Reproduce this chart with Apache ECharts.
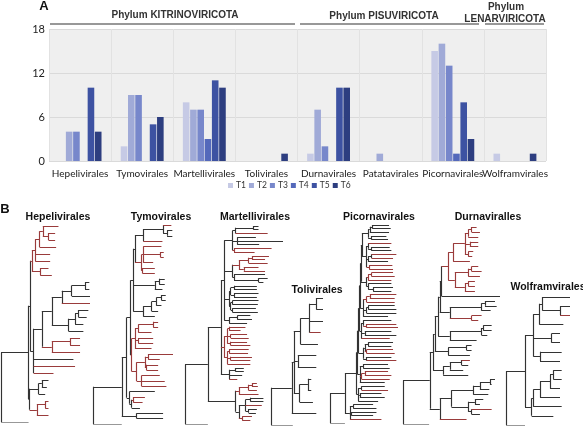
<!DOCTYPE html>
<html><head><meta charset="utf-8">
<script src="https://cdn.jsdelivr.net/npm/echarts@6/dist/echarts.min.js"></script>
<style>html,body{margin:0;padding:0;background:#fff}#c{width:583px;height:426px}</style>
</head><body><div id="c"></div>
<script>
// ---------- Panel A data ----------
const categories = ['Hepelivirales','Tymovirales','Martellivirales','Tolivirales','Durnavirales','Patatavirales','Picornavirales','Wolframvirales'];
const seriesNames = ['T1','T2','T3','T4','T5','T6'];
const t1 = [0, 2, 8, 0, 1, 0, 15, 1];
const t2 = [4, 9, 7, 0, 7, 1, 16, 0];
const t3 = [4, 9, 7, 0, 2, 0, 13, 0];
const t4 = [0, 0, 3, 0, 0, 0, 1, 0];
const t5 = [10, 5, 11, 0, 10, 0, 8, 0];
const t6 = [4, 6, 10, 1, 10, 0, 3, 1];
const yTicks = [0, 6, 12, 18];
const phyla = ['Phylum KITRINOVIRICOTA', 'Phylum PISUVIRICOTA', 'Phylum', 'LENARVIRICOTA'];

// ---------- Panel B data: trees (Newick, branch lengths; "r" = red clade/leaf) ----------
const hepR1 = "((((a:47,(a:20,a:20):17):10,a:50):13,a:45,a:45):10,(a:25,a:35):25)r";
const hepS = "(((a:13,a:13):40,a:55):30,r:85)";
const hepT = "(((a:30,a:25):10,a:25):20,a:45)";
const hepQ = "((a:30,a:30):55,a:85)r";
const hepD = "((a:20,a:15):10,a:20)";
const hepE = "((a:10,a:10):25,a:35)r";
const hepP = "(" + hepS + ":30," + hepT + ":50)";
const hepN = "(" + hepP + ":30," + hepQ + ":30)";
const hepF = "(" + hepN + ":25,a:120,r:125,r:60)";
const hepB = "(" + hepR1 + ":5," + hepF + ":10)";
const hepC = "(" + hepD + ":27," + hepE + ":22)";
const hepeliviralesTree = "((" + hepB + ":5," + hepC + ":3):83,a:83)";

const tymU1a = "((r:25,(a:16,a:16):12):60,r:58)";
const tymU1b = "((a:55,(a:10,a:10):52,a:30):5,(a:37,a:37):3)r";
const tymU2 = "((a:17,a:17):13,a:23)";
const tymU3 = "((((a:13,a:13):15,a:15):15,a:20):25,a:35)";
const tymL1 = "(((a:15,a:15):45,a:40):10,(a:45,a:45):10,a:50)";
const tymL2 = "(((a:75,a:35):10,(a:35,a:35):5):25,(a:55,a:70,a:75):15)";
const tymBl = "(a:77,((a:35,a:28)r:5,a:25):7)";
const tymU1 = "(" + tymU1a + ":25," + tymU1b + ":20)";
const tymU = "(" + tymU1 + ":5," + tymU2 + ":65," + tymU3 + ":30)";
const tymLr = "(" + tymL1 + ":10," + tymL2 + ":15)r";
const tymBm = "(" + tymU + ":8," + tymLr + ":3)";
const tymB = "(" + tymBm + ":12," + tymBl + ":8)";
const tymoviralesTree = "((" + tymB + ":15,(a:80,a:80):45):87,a:87)";

const marD1 = "(((a:15,a:15):55,r:98):10,(a:57,a:140,a:67):15,(a:115,a:63)r:5)";
const marD2 = "((((a:52,a:40):10,a:58):30,(a:45,a:65):15)r:20,(a:95,(a:28,a:15):75):5)";
const marD3 = "(((a:70,a:70):10,(a:75,a:70):10):5,((a:80,a:78):5,(a:72,a:78):5):5)";
const marD4 = "((a:40,a:45):25,a:55)";
const marB2 = "(((a:50,a:35):5,(a:50,a:55):10,(a:50,a:60):10):10,((a:60,a:58):5,(a:65,a:60):10,a:70):10)r";
const marB3 = "((a:25,a:25):20,a:40,r:25)";
const marC1 = "(((a:15,a:18):10,a:25):30,a:60)r";
const marC2 = "(((a:40,a:40):15,r:50,(a:25,a:22):10):20,(a:30,a:25)r:10)";
const marB1 = "(" + marD1 + ":25," + marD2 + ":25," + marD3 + ":15," + marD4 + ":15)";
const marB = "(" + marB1 + ":10," + marB2 + ":10," + marB3 + ":25)";
const marC = "(" + marC1 + ":10," + marC2 + ":10)";
const martelliviralesTree = "((" + marB + ":40," + marC + ":85):70,a:70)";

const tolC1 = "(((a:20,a:20):20,a:40,r:33):27,a:52)";
const tolB = "(" + tolC1 + ":20,(a:55,a:55):12,((a:10,a:10):25,a:40):17)";
const toliviralesTree = "((" + tolB + ":6,a:73):62,a:65)";

const picG1 = "(((a:50,a:55):8,a:58):5,(a:45,a:50):10)";
const picG2 = "((r:70,(a:55,a:60):10):5,((r:75,r:65):10,a:60):5,(r:70,r:72)r:8)";
const picG3 = "(((r:65,r:70):10,r:70)r:5,(a:70,(a:60,a:55):15):5)";
const picG4 = "(((r:80,r:75):10,r:85)r:10,((a:80,a:85):5,a:90):10,a:75)";
const picG5 = "((a:85,(r:90,r:95)r:10):5,(a:80,a:95):10,r:85)";
const picG6 = "(((a:75,a:70):10,(r:80,r:85)r:5):5,(a:75,r:90):10)";
const picG7 = "((a:75,a:80):10,((r:70,r:80):10,r:85)r:5,a:75)";
const picG8 = "((a:70,r:80):10,(a:65,a:75):5,a:60)";
const picG9 = "((a:60,a:70):10,(a:75,a:65):5,r:95)";
const picB6 = "(" + picG1 + ":19," + picG2 + ":14)";
const picB5 = "(" + picB6 + ":3," + picG3 + ":17)";
const picB4 = "(" + picB5 + ":2," + picG4 + ":9)";
const picB3 = "(" + picB4 + ":2," + picG5 + ":6)";
const picB2 = "(" + picB3 + ":3," + picG6 + ":14)";
const picB1 = "(" + picB2 + ":3," + picG7 + ":7)";
const picMain = "(" + picB1 + ":3," + picG8 + ":5)";
const picornaviralesTree = "((" + picMain + ":35," + picG9 + ":15):45,a:45)";

const durR1 = "((((a:15,a:25):10,a:30):10,(a:25,a:25):15,(a:15,a:12):10):35,a:50)";
const durR2 = "(((a:20,a:30):10,a:35):40,((a:20,a:20):10,a:30):30)";
const durBa = "(((a:30,a:35):10,a:27):95,(a:30,a:20)r:65)";
const durBb = "(((a:25,a:25):5,a:17):95,a:80)";
const durBc = "((a:15,a:15):55,a:65)";
const durBd = "(((r:25,a:20):35,a:40):20,a:75)";
const durC1 = "((((a:15,a:5):30,a:28):20,a:45):65,((a:25,a:15):20,(r:60,a:25):10):50)";
const durR = "(" + durR1 + ":15," + durR2 + ":20)r";
const durB4 = "(" + durR + ":20,a:175)";
const durB3 = "(" + durB4 + ":5," + durBa + ":30)";
const durB2 = "(" + durB3 + ":5," + durBb + ":35)";
const durB1 = "(" + durB2 + ":10," + durBc + ":40)";
const durB = "(" + durB1 + ":5," + durBd + ":30)";
const durC = "(" + durC1 + ":35,r:80)";
const durnaviralesTree = "((" + durB + ":10," + durC + ":30):80,a:78)";

const wolB = "(((a:82,(a:30,r:30):52):10,a:72):18,(a:25,a:25):55,(a:65,a:60):20)";
const wolC = "(((((a:25,a:25):10,a:30):30,a:60):20,a:85):5,a:65)";
const wolframviralesTree = "((" + wolB + ":25," + wolC + ":20):57,a:57)";

const treeNames = ['Hepelivirales','Tymovirales','Martellivirales','Tolivirales','Picornavirales','Durnaviralles','Wolframvirales'];
const treeData = [hepeliviralesTree, tymoviralesTree, martelliviralesTree, toliviralesTree, picornaviralesTree, durnaviralesTree, wolframviralesTree];

// ---------- layout / style ----------
const barColors = ['#c6cae5', '#a0aad7', '#7787cb', '#5469bb', '#3d52a2', '#2d3e80'];
const treeBoxes = [
  {left: 1, top: 226, width: 89, height: 196, title: [58, 217]},
  {left: 93, top: 225, width: 80, height: 199, title: [161, 217]},
  {left: 185, top: 226, width: 98, height: 198, title: [255, 217]},
  {left: 271, top: 298, width: 52, height: 127, title: [317, 290]},
  {left: 330, top: 225, width: 68, height: 198, title: [379, 217]},
  {left: 403, top: 227, width: 97, height: 197, title: [488, 217]},
  {left: 506, top: 297, width: 64, height: 128, title: [548, 287]}
];
const RED = '#9a3b3b', DARK = '#333333';

function parseNewick(s) {
  let i = 0;
  function node() {
    const n = {children: [], name: '', len: 0};
    if (s[i] === '(') {
      i++;
      n.children.push(node());
      while (s[i] === ',') { i++; n.children.push(node()); }
      i++;
    }
    let name = '';
    while (i < s.length && !',():;'.includes(s[i])) name += s[i++];
    n.name = name.trim();
    if (s[i] === ':') {
      i++; let num = '';
      while (i < s.length && !',();'.includes(s[i])) num += s[i++];
      n.len = parseFloat(num);
    }
    return n;
  }
  return node();
}
function layoutTree(str) {
  const root = parseNewick(str);
  let leaf = 0, maxX = 0;
  (function walk(n, x, red) {
    n.x = x;
    n.red = n.name === 'r' ? true : (n.name === 'k' ? false : red);
    maxX = Math.max(maxX, x);
    if (!n.children.length) { n.y = leaf++; return; }
    n.children.forEach(c => walk(c, x + c.len, n.red));
    n.y = (n.children[0].y + n.children[n.children.length - 1].y) / 2;
  })(root, 0, false);
  const segs = [];
  (function emit(n) {
    if (!n.children.length) return;
    const f = n.children[0], l = n.children[n.children.length - 1];
    segs.push({coords: [[n.x, f.y], [n.x, l.y]], lineStyle: {color: n.red ? RED : DARK}});
    n.children.forEach(c => {
      segs.push({coords: [[n.x, c.y], [c.x, c.y]], lineStyle: {color: c.red ? RED : DARK}});
      emit(c);
    });
  })(root);
  return {segs, maxX, leaves: leaf};
}

const chart = echarts.init(document.getElementById('c'), null, {renderer: 'canvas'});
const grids = [{left: 49, top: 29, width: 497, height: 132, show: true, backgroundColor: '#efefef', borderWidth: 0}];
const xAxes = [{
  type: 'category', data: categories, gridIndex: 0,
  axisLine: {show: false}, axisTick: {show: false},
  axisLabel: {interval: 0, fontSize: 10, color: '#222', margin: 8, fontFamily: 'Lato'},
  splitLine: {show: true, lineStyle: {color: '#e2e2e2', width: 1}}
}];
const yAxes = [{
  type: 'value', min: yTicks[0], max: yTicks[yTicks.length - 1], interval: yTicks[1] - yTicks[0], gridIndex: 0,
  axisLine: {show: false}, axisTick: {show: false},
  axisLabel: {fontSize: 11, color: '#222', margin: 4, fontFamily: 'Lato'},
  splitLine: {lineStyle: {color: '#dadada', width: 1}}
}];
const series = [t1, t2, t3, t4, t5, t6].map((d, k) => ({
  type: 'bar', name: seriesNames[k], data: d, xAxisIndex: 0, yAxisIndex: 0,
  barWidth: 6.6, barGap: '10%', itemStyle: {color: barColors[k]}
}));
const graphic = [];
treeData.forEach((str, k) => {
  const t = layoutTree(str);
  const b = treeBoxes[k];
  grids.push({left: b.left, top: b.top, width: b.width, height: b.height, show: false});
  xAxes.push({type: 'value', gridIndex: k + 1, min: 0, max: t.maxX, show: false});
  yAxes.push({type: 'value', gridIndex: k + 1, min: 0, max: t.leaves - 1, inverse: true, show: false});
  series.push({type: 'lines', coordinateSystem: 'cartesian2d', xAxisIndex: k + 1, yAxisIndex: k + 1,
    data: t.segs, lineStyle: {width: 1.15, opacity: 1}, silent: true});
  graphic.push({type: 'text', x: b.title[0], y: b.title[1],
    style: {text: treeNames[k], font: 'bold 10.5px "Liberation Sans"', fill: '#111', align: 'center', verticalAlign: 'middle'}});
});
graphic.push(
  {type: 'text', x: 44, y: 6, style: {text: 'A', font: 'bold 13px "Liberation Sans"', fill: '#111', align: 'center', verticalAlign: 'middle'}},
  {type: 'text', x: 5, y: 209, style: {text: 'B', font: 'bold 13px "Liberation Sans"', fill: '#111', align: 'center', verticalAlign: 'middle'}},
  {type: 'text', x: 175, y: 15, style: {text: phyla[0], font: 'bold 10px "Liberation Sans"', fill: '#333', align: 'center', verticalAlign: 'middle'}},
  {type: 'text', x: 384, y: 16, style: {text: phyla[1], font: 'bold 10px "Liberation Sans"', fill: '#333', align: 'center', verticalAlign: 'middle'}},
  {type: 'text', x: 506, y: 7, style: {text: phyla[2], font: 'bold 10px "Liberation Sans"', fill: '#333', align: 'center', verticalAlign: 'middle'}},
  {type: 'text', x: 505, y: 19, style: {text: phyla[3], font: 'bold 10px "Liberation Sans"', fill: '#333', align: 'center', verticalAlign: 'middle'}},
  {type: 'line', shape: {x1: 50, y1: 24, x2: 295, y2: 24}, style: {stroke: '#333', lineWidth: 1.2}},
  {type: 'line', shape: {x1: 300, y1: 24, x2: 479, y2: 24}, style: {stroke: '#333', lineWidth: 1.2}},
  {type: 'line', shape: {x1: 485, y1: 24, x2: 544, y2: 24}, style: {stroke: '#333', lineWidth: 1.2}}
);

chart.setOption({
  animation: false,
  grid: grids, xAxis: xAxes, yAxis: yAxes, series: series,
  legend: {data: seriesNames, left: 228, top: 181, itemWidth: 5, itemHeight: 5, itemGap: 3, icon: 'rect', padding: 0,
    textStyle: {fontSize: 8.5, color: '#333', fontFamily: 'Lato', padding: [0, 0, 0, -2]}},
  graphic: graphic
});
</script></body></html>
